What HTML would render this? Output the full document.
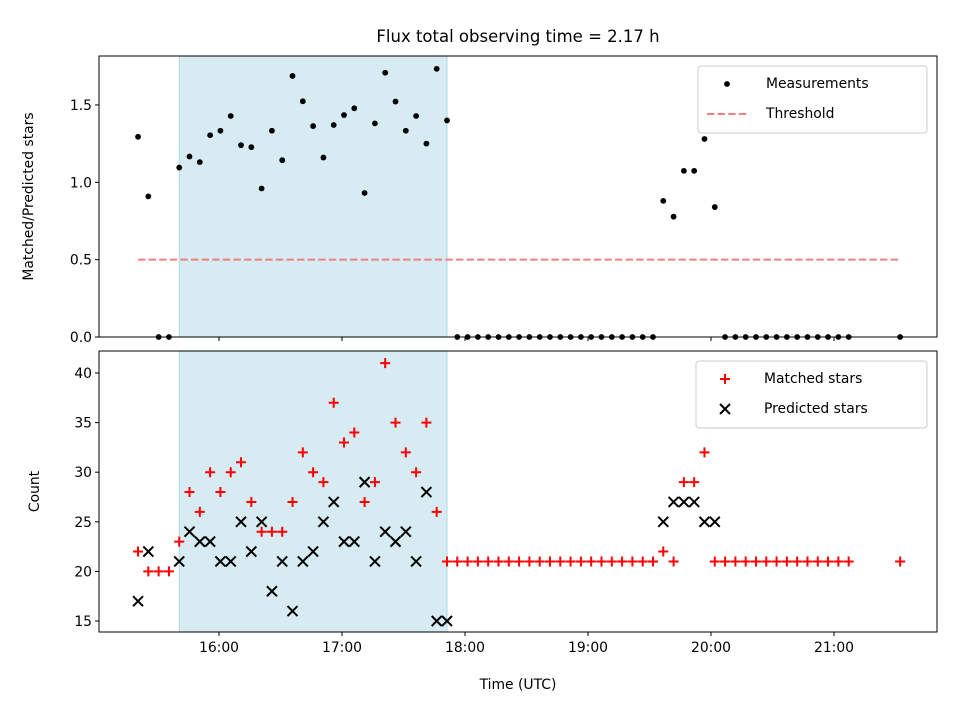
<!DOCTYPE html>
<html><head><meta charset="utf-8"><style>
body{margin:0;background:#fff;}
svg{display:block;font-family:"DejaVu Sans","Liberation Sans",sans-serif;}
</style></head><body>
<svg id="chart" width="960" height="720" viewBox="0 0 960 720" xmlns="http://www.w3.org/2000/svg">
<rect width="960" height="720" fill="#fff"/>
<text x="518" y="42" font-size="16.5" text-anchor="middle" fill="#000">Flux total observing time = 2.17 h</text>
<g id="topPanel"></g><g id="botPanel"></g>
</svg>
<script>
// minutes past 15:20 for each sample
const sampleMinutes = [0,5,10,15,20,25,30,35,40,45,50,55,60,65,70,75,80,85,90,95,100,105,110,115,120,125,130,135,140,145,150,155,160,165,170,175,180,185,190,195,200,205,210,215,220,225,230,235,240,245,250,255,260,265,270,275,280,285,290,295,300,305,310,315,320,325,330,335,340,345,370];
const matchedStars = [22,20,20,20,23,28,26,30,28,30,31,27,24,24,24,27,32,30,29,37,33,34,27,29,41,35,32,30,35,26,21,21,21,21,21,21,21,21,21,21,21,21,21,21,21,21,21,21,21,21,21,22,21,29,29,32,21,21,21,21,21,21,21,21,21,21,21,21,21,21,21];
const predictedStars = [17,22,null,null,21,24,23,23,21,21,25,22,25,18,21,16,21,22,25,27,23,23,29,21,24,23,24,21,28,15,15,null,null,null,null,null,null,null,null,null,null,null,null,null,null,null,null,null,null,null,null,25,27,27,27,25,25,null,null,null,null,null,null,null,null,null,null,null,null,null,null];
const threshold = 0.5;
const spanStartIdx = 4, spanEndIdx = 30;
const topTicks = [0.0,0.5,1.0,1.5];
const botTicks = [15,20,25,30,35,40];
const xTickHours = [16,17,18,19,20,21];
const xTickLabels = ["16:00","17:00","18:00","19:00","20:00","21:00"];

const NS="http://www.w3.org/2000/svg";
const L=99,R=937,T1=56,B1=337,T2=351,B2=632;
const tHours = m => 15+20.5/60+m*1.0048/60;
const X = h => 219+(h-16)*123;
const Y1 = v => 337 - v*154.7;
const Y2 = v => 621 - (v-15)*9.92;
function el(tag,attrs,parent){const e=document.createElementNS(NS,tag);for(const k in attrs)e.setAttribute(k,attrs[k]);parent.appendChild(e);return e;}
const gTop=document.getElementById('topPanel'), gBot=document.getElementById('botPanel');
const measurements = matchedStars.map((m,i)=>predictedStars[i]?m/predictedStars[i]:0);

function panel(g,T,B,ticks,Y,fmt,ylabel,showX,ylx){
  const x0=X(tHours(sampleMinutes[spanStartIdx])), x1=X(tHours(sampleMinutes[spanEndIdx]));
  const sp=el('rect',{x:x0,y:T,width:x1-x0,height:B-T,fill:'#add8e6','fill-opacity':0.5,stroke:'#add8e6'},g);
  
  
  ticks.forEach(v=>{
    const y=Y(v);
    el('line',{x1:L-4,x2:L,y1:y,y2:y,stroke:'#000','stroke-width':1},g);
    const t=el('text',{x:L-7,y:y+5,'font-size':13.9,'text-anchor':'end'},g);t.textContent=fmt(v);
    
    
  });
  xTickHours.forEach((h,i)=>{
    const x=X(h);
    el('line',{x1:x,x2:x,y1:B,y2:B+4,stroke:'#000'},g);
    if(showX){const t=el('text',{x:x,y:B+20,'font-size':13.9,'text-anchor':'middle'},g);t.textContent=xTickLabels[i];
      
      }
  });
  const yl=el('text',{transform:`translate(${ylx},${(T+B)/2}) rotate(-90)`,'font-size':13.9,'text-anchor':'middle'},g);yl.textContent=ylabel;
  
  
}
panel(gTop,T1,B1,topTicks,Y1,v=>v.toFixed(1),'Matched/Predicted stars',false,33);
panel(gBot,T2,B2,botTicks,Y2,v=>String(v),'Count',true,39);

const th=el('line',{x1:X(tHours(sampleMinutes[0])),x2:X(tHours(sampleMinutes[sampleMinutes.length-1])),y1:Y1(threshold),y2:Y1(threshold),stroke:'#f08080','stroke-width':2,'stroke-dasharray':'7.4,3.2'},gTop);


sampleMinutes.forEach((m,i)=>{
  const c=el('circle',{cx:X(tHours(m)),cy:Y1(measurements[i]),r:2.9,fill:'#000'},gTop);
  
  
});
sampleMinutes.forEach((m,i)=>{
  const x=X(tHours(m));
  if(matchedStars[i]!=null){const y=Y2(matchedStars[i]);
    const p=el('path',{d:`M${x-5},${y}H${x+5}M${x},${y-5}V${y+5}`,stroke:'#f00','stroke-width':2},gBot);
    
    }
  if(predictedStars[i]!=null){const y=Y2(predictedStars[i]);
    const p=el('path',{d:`M${x-5},${y-5}L${x+5},${y+5}M${x-5},${y+5}L${x+5},${y-5}`,stroke:'#000','stroke-width':2},gBot);
    
    }
});
[[T1,B1,gTop],[T2,B2,gBot]].forEach(([T,B,g])=>{
  const f=el('rect',{x:L,y:T,width:R-L,height:B-T,fill:'none',stroke:'#000','stroke-width':1},g);
  
  
});
const xt=el('text',{x:518,y:689,'font-size':13.9,'text-anchor':'middle'},gBot);xt.textContent='Time (UTC)';



function legend(g,x,y,w,items){
  const box=el('rect',{x:x,y:y,width:w,height:67,rx:3,fill:'#fff','fill-opacity':0.8,stroke:'#ccc'},g);
  
  
  items.forEach((it,i)=>{
    const cy=y+17+i*30;
    it.draw(x+29,cy+1);
    const t=el('text',{x:x+68,y:cy+5,'font-size':13.9},g);t.textContent=it.label;
    
    
  });
}
legend(gTop,698,66,229,[
  {label:'Measurements',draw:(x,y)=>el('circle',{cx:x,cy:y,r:2.9,fill:'#000'},gTop)},
  {label:'Threshold',draw:(x,y)=>el('line',{x1:x-20,x2:x+20,y1:y,y2:y,stroke:'#f08080','stroke-width':2,'stroke-dasharray':'7.4,3.2'},gTop)}
]);
legend(gBot,696,361,231,[
  {label:'Matched stars',draw:(x,y)=>el('path',{d:`M${x-5},${y}H${x+5}M${x},${y-5}V${y+5}`,stroke:'#f00','stroke-width':2},gBot)},
  {label:'Predicted stars',draw:(x,y)=>el('path',{d:`M${x-5},${y-5}L${x+5},${y+5}M${x-5},${y+5}L${x+5},${y-5}`,stroke:'#000','stroke-width':2},gBot)}
]);
</script>
</body></html>
